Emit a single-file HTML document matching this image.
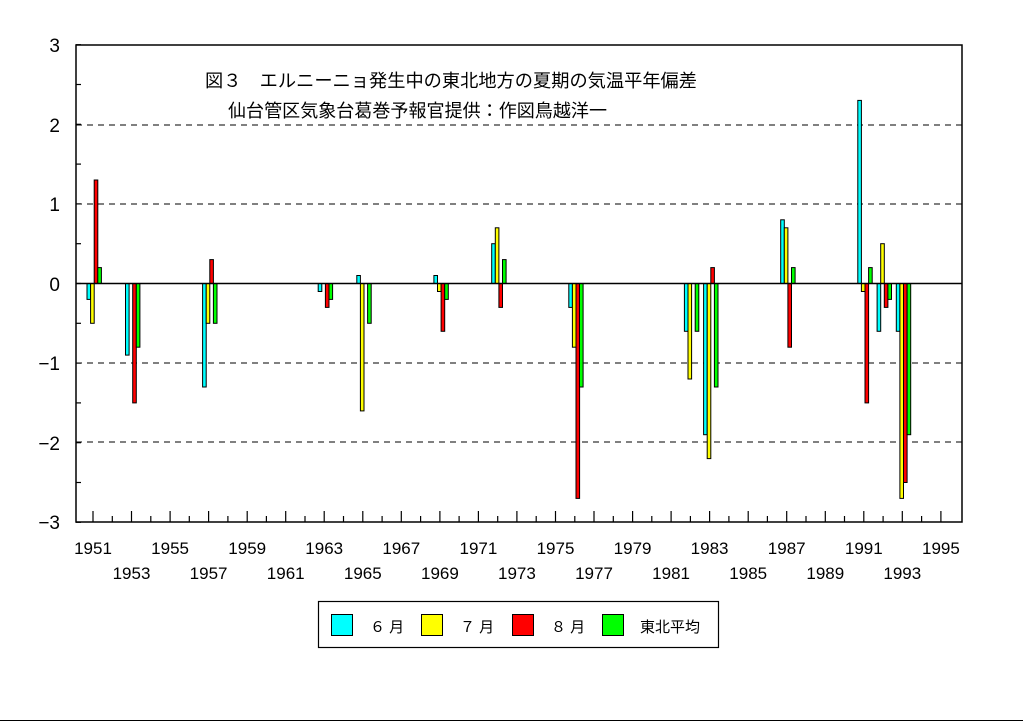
<!DOCTYPE html>
<html><head><meta charset="utf-8"><style>
html,body{margin:0;padding:0;background:#fff;}
svg{display:block;font-family:"Liberation Sans","Noto Sans CJK JP",sans-serif;}
</style></head><body>
<svg id="c" width="1023" height="724" viewBox="0 0 1023 724" xmlns="http://www.w3.org/2000/svg">
<rect x="0" y="0" width="1023" height="724" fill="#fff"/>
<g id="grid" stroke="#000" stroke-width="1" stroke-dasharray="6,5">
<line x1="76" y1="125" x2="962" y2="125"/>
<line x1="76" y1="204" x2="962" y2="204"/>
<line x1="76" y1="363" x2="962" y2="363"/>
<line x1="76" y1="442" x2="962" y2="442"/>
</g>
<g id="bars"></g>
<line x1="76" y1="283.5" x2="962" y2="283.5" stroke="#000" stroke-width="1.5"/>
<rect x="76" y="45" width="886" height="477" fill="none" stroke="#000" stroke-width="1.5"/>
<g id="ticks" stroke="#000" stroke-width="1.2"></g>
<g font-size="19" text-anchor="end" fill="#000">
<text x="60" y="52">3</text><text x="60" y="132">2</text><text x="60" y="211">1</text>
<text x="60" y="291">0</text><text x="60" y="370">−1</text><text x="60" y="450">−2</text><text x="60" y="529">−3</text>
</g>
<g id="xl" font-size="17" text-anchor="middle" fill="#000"></g>
<text x="205" y="87" font-size="18" textLength="492" lengthAdjust="spacingAndGlyphs" fill="#000">図３　エルニーニョ発生中の東北地方の夏期の気温平年偏差</text>
<text x="228" y="117" font-size="18" textLength="379" lengthAdjust="spacingAndGlyphs" fill="#000">仙台管区気象台葛巻予報官提供：作図鳥越洋一</text>
<rect x="318.5" y="601.5" width="400" height="46" fill="#fff" stroke="#000" stroke-width="1.2"/>
<g stroke="#000" stroke-width="1">
<rect x="331.5" y="614.5" width="21" height="21" fill="#00ffff"/>
<rect x="421.5" y="614.5" width="21" height="21" fill="#ffff00"/>
<rect x="512.5" y="614.5" width="21" height="21" fill="#ff0000"/>
<rect x="602.5" y="614.5" width="21" height="21" fill="#00ff00"/>
</g>
<g font-size="15" fill="#000">
<text x="370" y="632">６ 月</text><text x="460" y="632">７ 月</text><text x="551" y="632">８ 月</text><text x="640" y="632">東北平均</text>
</g>
<line x1="0" y1="720.5" x2="1023" y2="720.5" stroke="#000" stroke-width="1"/>
</svg>
<script>
var NS="http://www.w3.org/2000/svg";
function el(p,t,a,txt){var e=document.createElementNS(NS,t);for(var k in a)e.setAttribute(k,a[k]);if(txt)e.textContent=txt;p.appendChild(e);return e;}
var data={1951:[-0.2,-0.5,1.3,0.2],1953:[-0.9,0,-1.5,-0.8],1957:[-1.3,-0.5,0.3,-0.5],
1963:[-0.1,0,-0.3,-0.2],1965:[0.1,-1.6,0,-0.5],1969:[0.1,-0.1,-0.6,-0.2],1972:[0.5,0.7,-0.3,0.3],
1976:[-0.3,-0.8,-2.7,-1.3],1982:[-0.6,-1.2,0,-0.6],1983:[-1.9,-2.2,0.2,-1.3],1987:[0.8,0.7,-0.8,0.2],
1991:[2.3,-0.1,-1.5,0.2],1992:[-0.6,0.5,-0.3,-0.2],1993:[-0.6,-2.7,-2.5,-1.9]};
var cols=["#00ffff","#ffff00","#ff0000","#00ff00"];
var bars=document.getElementById("bars");
var S=79.6,Z=283.5,step=19.27;
for(var y in data){var x0=87+step*(y-1951);
 data[y].forEach(function(v,i){if(v==0)return;var x=x0+i*3.6;
  var top=v>0?Z-v*S:Z,h=Math.abs(v)*S;
  el(bars,"rect",{x:x.toFixed(1),y:top.toFixed(1),width:3.6,height:h.toFixed(1),fill:cols[i],stroke:"#000","stroke-width":1});});}
var tk=document.getElementById("ticks"),xl=document.getElementById("xl");
for(var yr=1951;yr<=1995;yr++){var x=93+step*(yr-1951);var L=((yr-1951)%2==0)?11:6;
 el(tk,"line",{x1:x.toFixed(1),y1:522,x2:x.toFixed(1),y2:522-L});
 if((yr-1951)%4==0)el(xl,"text",{x:x.toFixed(1),y:554},String(yr));
 else if((yr-1951)%4==2)el(xl,"text",{x:x.toFixed(1),y:579},String(yr));}
for(var v=-3;v<=3;v+=0.5){var yy=Z-v*S;el(tk,"line",{x1:76,y1:yy.toFixed(1),x2:81,y2:yy.toFixed(1)});}
</script>
</body></html>
